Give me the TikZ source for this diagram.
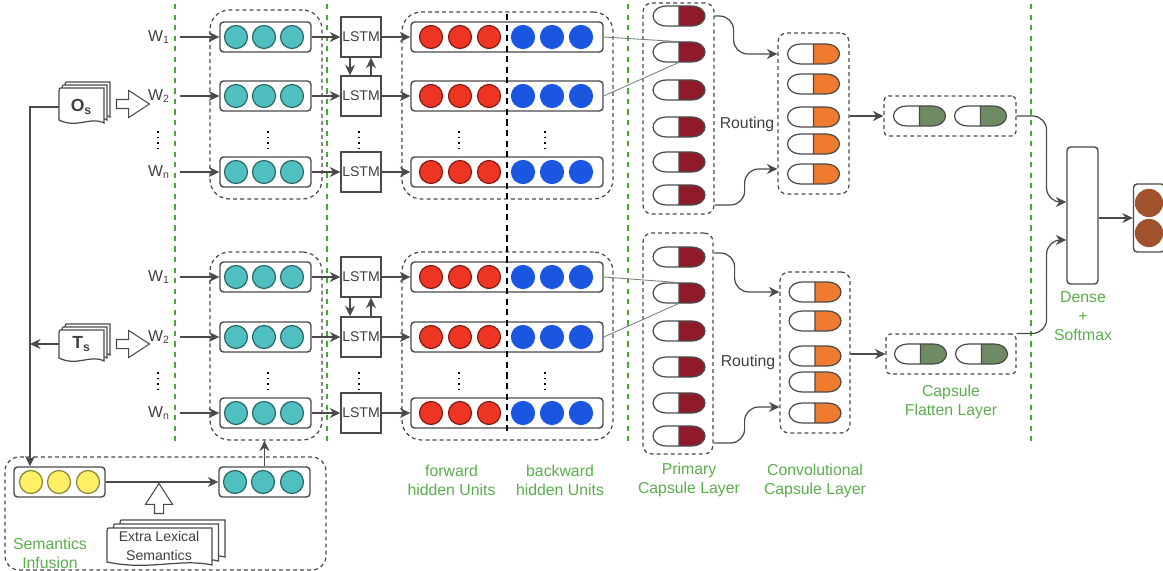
\documentclass[tikz,border=0pt]{standalone}
\usepackage{fontspec}
\setmainfont{Liberation Sans}
\usetikzlibrary{arrows.meta,positioning,calc,shapes.arrows}
\definecolor{tealdot}{HTML}{4FBFBF}
\definecolor{reddot}{HTML}{EE3524}
\definecolor{bluedot}{HTML}{1A56E0}
\definecolor{yellowdot}{HTML}{FFF066}
\definecolor{browndot}{HTML}{A0522D}
\definecolor{maroon}{HTML}{8E1A2A}
\definecolor{capsorange}{HTML}{EE7B2E}
\definecolor{capsgreen}{HTML}{6E8B63}
\definecolor{labelgreen}{HTML}{5BAE4C}
\definecolor{sepgreen}{HTML}{4CA832}
\definecolor{inkline}{HTML}{4A4A4A}
\newcommand{\docstack}[6]{\foreach \d in {2,1,0} {
    \draw[inkline, line width=.7pt, fill=white, shift={(\d*#5,-\d*#6)}]
      (#1,#2+3) .. controls (#1,#2) and (#1,#2) .. (#1+4,#2) -- (#1+#3,#2) -- (#1+#3,#2+#4)
      .. controls (#1+.7*#3,#2+#4-7) and (#1+.4*#3,#2+#4+6) .. (#1,#2+#4-3) -- cycle;}}
\newcommand{\capsnode}[4]{
  \node[inner sep=0pt, minimum width=1.04cm, minimum height=0.4cm] (#1) at (#2,#3) {};
  \fill[#4] (#2,#3-10) -- (#2+12,#3-10) .. controls (#2+21,#3-10) and (#2+26,#3-5) .. (#2+26,#3)
    .. controls (#2+26,#3+5) and (#2+21,#3+10) .. (#2+12,#3+10) -- (#2,#3+10) -- cycle;
  \draw[inkline, line width=.7pt] (#2,#3-10) -- (#2+12,#3-10) .. controls (#2+21,#3-10) and (#2+26,#3-5) .. (#2+26,#3)
    .. controls (#2+26,#3+5) and (#2+21,#3+10) .. (#2+12,#3+10) -- (#2-12,#3+10)
    .. controls (#2-21,#3+10) and (#2-26,#3+5) .. (#2-26,#3)
    .. controls (#2-26,#3-5) and (#2-21,#3-10) .. (#2-12,#3-10) -- cycle (#2,#3-10) -- (#2,#3+10);}
\begin{document}
\begin{tikzpicture}[x=0.02cm,y=-0.02cm,
    font=\fontsize{9}{10.8}\selectfont, text=black!75,
    rowbox/.style={draw=inkline, line width=.8pt, rounded corners=2pt, fill=white, inner sep=0pt, minimum height=0.6cm},
    dotnode/.style={circle, draw=#1!55!black, fill=#1, line width=.7pt, inner sep=0pt, minimum size=0.46cm},
    grp/.style={draw=inkline, line width=.7pt, dash pattern=on 2.2pt off 1.8pt, rounded corners=#1, inner sep=0pt},
    lstmbox/.style={draw=inkline, line width=.8pt, fill=white, inner sep=0pt, minimum size=0.8cm, font=\fontsize{8}{10}\selectfont},
    arr/.style={-{Stealth[length=2.1mm,width=2mm]}, inkline, line width=.7pt},
    sep/.style={sepgreen, line width=1.2pt, dash pattern=on 3pt off 3pt},
    lbl/.style={text=labelgreen, align=center},
    bigarr/.style={single arrow, draw=inkline, fill=white, line width=.6pt, inner xsep=0pt, inner ysep=0.08cm,
      minimum width=0.52cm, single arrow head extend=0.18cm, single arrow tip angle=66},
    worddots/.style={black, line width=1pt, dash pattern=on 1pt off 2.2pt}]
  \useasboundingbox (0,0) rectangle (1163,571);
  % separators
  \foreach \x in {175,327,628,1031} {\draw[sep] (\x,4) -- (\x,443);}
  % groups
  \node[grp=11pt, minimum width=2.24cm, minimum height=3.78cm] (embgrpu) at (266,104.5) {};
  \node[grp=11pt, minimum width=2.24cm, minimum height=3.76cm] (embgrpl) at (266,346) {};
  \node[grp=11pt, minimum width=4.22cm, minimum height=3.74cm] (bigrpu) at (507.5,105.5) {};
  \node[grp=11pt, minimum width=4.22cm, minimum height=3.76cm] (bigrpl) at (507.5,346) {};
  \node[grp=5pt, minimum width=1.42cm, minimum height=4.22cm] (primgrpu) at (678.5,108.5) {};
  \node[grp=5pt, minimum width=1.40cm, minimum height=4.42cm] (primgrpl) at (678,343.5) {};
  \node[grp=5pt, minimum width=1.42cm, minimum height=3.22cm] (convgrpu) at (813.5,113.5) {};
  \node[grp=5pt, minimum width=1.40cm, minimum height=3.22cm] (convgrpl) at (815,352.5) {};
  \node[grp=2.5pt, minimum width=2.64cm, minimum height=0.8cm] (flatgrpu) at (950,116) {};
  \node[grp=2.5pt, minimum width=2.6cm, minimum height=0.8cm] (flatgrpl) at (951,354) {};
  \node[grp=8pt, minimum width=6.42cm, minimum height=2.26cm] (semgrp) at (165.5,513.5) {};
  % the two word stacks
  \foreach \s/\ya/\yb/\yc in {u/37/96/172,l/277/337/413} {
    \foreach \n/\y/\w in {1/\ya/1,2/\yb/2,3/\yc/n} {
      \node[minimum width=0.84cm, inner sep=0pt] (w\s\n) at (159,\y) {W\textsubscript{\w}};
      \node[rowbox, minimum width=1.82cm] (emb\s\n) at (265.5,\y) {};
      \foreach \x in {236,264,292} {\node[dotnode=tealdot] (emb\s\n-\x) at (\x,\y) {};}
      \node[lstmbox] (lstm\s\n) at (361,\y) {LSTM};
      \node[rowbox, minimum width=3.84cm] (bi\s\n) at (507,\y) {};
      \foreach \x in {431,460,489} {\node[dotnode=reddot] (fw\s\n-\x) at (\x,\y) {};}
      \foreach \x in {523,552,581} {\node[dotnode=bluedot, draw=bluedot] (bw\s\n-\x) at (\x,\y) {};}
      \draw[arr] (w\s\n) -- (emb\s\n);
      \draw[arr] (emb\s\n) -- (lstm\s\n);
      \draw[arr] (lstm\s\n) -- (bi\s\n);
    }
    \draw[arr] ([xshift=-0.22cm]lstm\s1.south) -- ([xshift=-0.22cm]lstm\s2.north);
    \draw[arr] ([xshift=0.2cm]lstm\s2.north) -- ([xshift=0.2cm]lstm\s1.south);
  }
  \foreach \y in {140,381} {
    \foreach \x in {158,268,359,459,545} {\draw[worddots] (\x,\y-9) -- (\x,\y+9);}
  }
  \coordinate (splittop) at (507,14);
  \coordinate (splitbot) at (507,432);
  \draw[black, line width=1.1pt, dash pattern=on 3.5pt off 2.5pt] (splittop) -- (splitbot);
  % capsules
  \foreach \y [count=\n] in {16,52,90,127,162,195} {\capsnode{primu\n}{679}{\y}{maroon}}
  \foreach \y [count=\n] in {257,293,331,367,403,436} {\capsnode{priml\n}{679}{\y}{maroon}}
  \foreach \y [count=\n] in {54,84,117,144,174} {\capsnode{convu\n}{813.5}{\y}{capsorange}}
  \foreach \y [count=\n] in {292,321,356,382,413} {\capsnode{convl\n}{815}{\y}{capsorange}}
  \capsnode{flatu1}{919.5}{116}{capsgreen}
  \capsnode{flatu2}{980.5}{116}{capsgreen}
  \capsnode{flatl1}{920.5}{354}{capsgreen}
  \capsnode{flatl2}{981.5}{354}{capsgreen}
  \node (routu) at (747,124) {Routing};
  \node (routl) at (748,362) {Routing};
  \draw[gray, line width=.5pt] (biu1.east) -- (primu2.north);
  \draw[gray, line width=.5pt] (biu2.east) -- (primu2.south);
  \draw[gray, line width=.5pt] (bil1.east) -- (priml2.north);
  \draw[gray, line width=.5pt] (bil2.east) -- (priml2.south);
  \draw[arr, rounded corners=8pt] (primgrpu.east |- primu1) -- ++(19,0) |- (convgrpu.west |- convu1);
  \draw[arr, rounded corners=8pt] (primgrpu.east |- primu6) ++(0,10) -- ++(30,0) |- ([yshift=0.1cm]convgrpu.west |- convu5);
  \draw[arr, rounded corners=8pt] (primgrpl.east |- priml1) ++(0,-4) -- ++(21,0) |- (convgrpl.west |- convl1);
  \draw[arr, rounded corners=8pt] (primgrpl.east |- priml6) ++(0,7) -- ++(31,0) |- ([yshift=0.12cm]convgrpl.west |- convl5);
  \draw[arr] (convgrpu.east |- flatgrpu) -- (flatgrpu);
  \draw[arr] (convgrpl.east |- flatgrpl) -- (flatgrpl);
  % output side
  \node[rowbox, minimum width=0.62cm, minimum height=2.74cm] (dense) at (1082.5,215.5) {};
  \node[rowbox, minimum width=0.62cm, minimum height=1.36cm] (outbox) at (1149,218) {};
  \node[dotnode=browndot, draw=browndot, minimum size=0.54cm] (out1) at (1149,203) {};
  \node[dotnode=browndot, draw=browndot, minimum size=0.54cm] (out2) at (1149,233) {};
  \draw[arr, rounded corners=8pt] (flatgrpu.east) -- ++(30,0) |- ([yshift=0.27cm]dense.west);
  \draw[arr, rounded corners=8pt] (flatgrpl.north east) -- ++(30,0) |- ([yshift=-0.49cm]dense.west);
  \draw[arr] (dense.east |- outbox) -- (outbox);
  % sentence inputs
  \docstack{59}{88}{45}{35}{3}{3}
  \docstack{59}{330}{45}{31}{3}{3}
  \node[font=\fontsize{10}{12}\selectfont\bfseries, minimum width=0.9cm, inner sep=0pt] (os) at (81.5,107) {O\textsubscript{s}};
  \node[font=\fontsize{10}{12}\selectfont\bfseries, minimum width=0.9cm, inner sep=0pt] (ts) at (81.5,344) {T\textsubscript{s}};
  \node[bigarr, minimum height=0.66cm] (osarr) at (129.5,104) {};
  \node[bigarr, minimum height=0.66cm] (tsarr) at (129.5,344) {};
  % semantics infusion
  \node[rowbox, minimum width=1.82cm] (yel) at (59.5,482) {};
  \foreach \x in {31,59,88} {\node[dotnode=yellowdot] (yel-\x) at (\x,482) {};}
  \node[rowbox, minimum width=1.82cm] (sem) at (264.5,482) {};
  \foreach \x in {235,263,292} {\node[dotnode=tealdot] (sem-\x) at (\x,482) {};}
  \docstack{107}{528}{105}{37}{6.5}{4}
  \node[font=\fontsize{8}{10.8}\selectfont, align=center] (extra) at (159,546) {Extra Lexical\\Semantics};
  \node[bigarr, minimum height=0.6cm, rotate=90] (extraarr) at (159,502) {};
  \coordinate (trunk) at (30,344);
  \draw[arr] (os.west) -| ([xshift=-0.59cm]yel.north);
  \draw[arr] (ts.west) -- (trunk);
  \draw[arr] (yel) -- (sem);
  \draw[arr] (sem.north) -- (sem.north |- embgrpl.south);
  % labels
  \node[lbl] (semlbl) at (50,553) {Semantics\\Infusion};
  \node[lbl] (fwlbl) at (451.5,480) {forward\\hidden Units};
  \node[lbl] (bwlbl) at (560,480) {backward\\hidden Units};
  \node[lbl] (primlbl) at (689,480) {Primary\\Capsule Layer};
  \node[lbl] (convlbl) at (815,481) {Convolutional\\Capsule Layer};
  \node[lbl] (flatlbl) at (951,402) {Capsule\\Flatten Layer};
  \node[lbl] (denselbl) at (1083,316) {Dense\\+\\Softmax};
\end{tikzpicture}
\end{document}
